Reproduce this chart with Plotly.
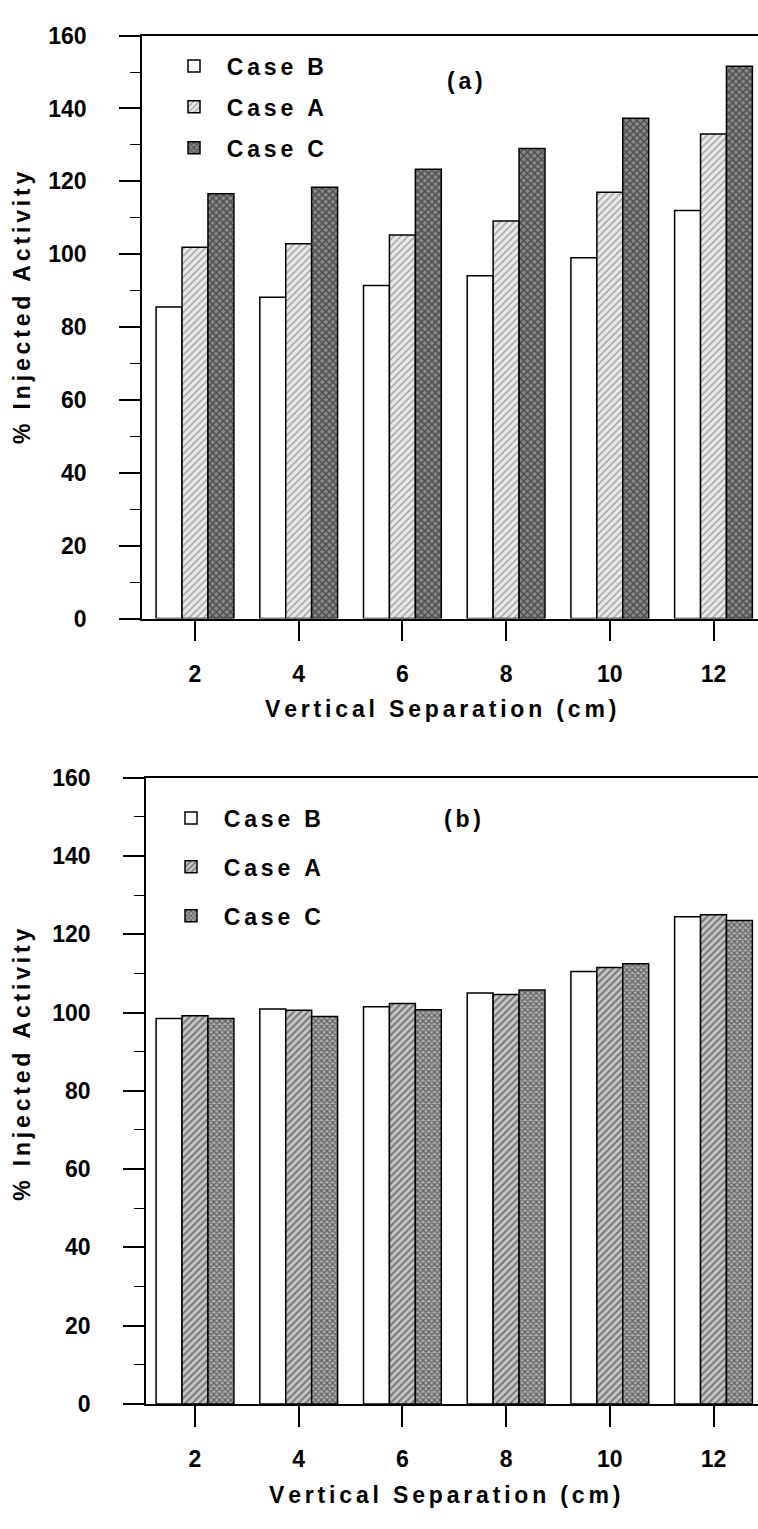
import plotly.graph_objects as go

# ---- data ----
separation = [2, 4, 6, 8, 10, 12]
tick_labels = ["2", "4", "6", "8", "10", "12"]
y_ticks = [0, 20, 40, 60, 80, 100, 120, 140, 160]

a_case_b = [85.5, 88.2, 91.4, 94.1, 99.0, 112.0]
a_case_a = [101.9, 102.9, 105.3, 109.1, 117.0, 133.0]
a_case_c = [116.6, 118.4, 123.3, 129.0, 137.3, 151.6]

b_case_b = [98.5, 100.9, 101.5, 105.0, 110.5, 124.5]
b_case_a = [99.2, 100.6, 102.3, 104.6, 111.5, 125.0]
b_case_c = [98.5, 99.0, 100.7, 105.8, 112.5, 123.5]

series_names = ["Case B", "Case A", "Case C"]

W, H = 758, 1529
FONT = "Liberation Sans"
SP = "\u2006"  # six-per-em space used as letter spacing
NB = "\u00a0"


def spaced(s):
    return SP.join(list(s))


fig = go.Figure()

styles_a = [
    dict(color="white", pattern=None),
    dict(color="#e0e0e0", pattern=dict(shape="/", fgcolor="#5e5e5e", bgcolor="#e9e9e9", size=5, solidity=0.3)),
    dict(color="#777", pattern=dict(shape="x", fgcolor="#111111", bgcolor="#8a8a8a", size=5, solidity=0.5)),
]
styles_b = [
    dict(color="white", pattern=None),
    dict(color="#bbb", pattern=dict(shape="/", fgcolor="#2a2a2a", bgcolor="#c8c8c8", size=5, solidity=0.42)),
    dict(color="#888", pattern=dict(shape="x", fgcolor="#111111", bgcolor="#b0b0b0", size=4, solidity=0.55)),
]

for vals, name, st in zip([a_case_b, a_case_a, a_case_c], series_names, styles_a):
    marker = dict(color=st["color"], line=dict(color="black", width=1.5))
    if st["pattern"]:
        marker["pattern"] = st["pattern"]
    fig.add_trace(go.Bar(x=separation, y=vals, name=NB + NB + spaced(name), marker=marker,
                         xaxis="x", yaxis="y", legend="legend", legendgroup="a" + name))

for vals, name, st in zip([b_case_b, b_case_a, b_case_c], series_names, styles_b):
    marker = dict(color=st["color"], line=dict(color="black", width=1.5))
    if st["pattern"]:
        marker["pattern"] = st["pattern"]
    fig.add_trace(go.Bar(x=separation, y=vals, name=NB + NB + spaced(name), marker=marker,
                         xaxis="x2", yaxis="y2", legend="legend2", legendgroup="b" + name))

tickfont = dict(family=FONT, size=23, color="black", weight="bold")

# category spacing: 2 units per 103.7 px
px_per_unit = 103.7 / 2


def xrange(left_px):
    lo = 2 - (195 - left_px) / px_per_unit
    hi = lo + (W - left_px) / px_per_unit
    return [lo, hi]


common_x = dict(tickmode="array", tickvals=separation, ticktext=tick_labels,
                ticks="outside", ticklen=21, tickwidth=1.5, tickcolor="black",
                showline=True, linecolor="black", linewidth=1.5, mirror=True,
                showgrid=False, zeroline=False, tickfont=tickfont,
                ticklabelstandoff=13)
common_y = dict(tickmode="array", tickvals=y_ticks, range=[0, 160],
                ticks="outside", ticklen=21, tickwidth=1.5, tickcolor="black",
                minor=dict(ticks="outside", ticklen=10, dtick=10, tickwidth=1.2, tickcolor="black", showgrid=False),
                showline=True, linecolor="black", linewidth=1.5,
                showgrid=False, zeroline=False, tickfont=tickfont,
                ticklabelstandoff=28)

legfont = dict(family=FONT, size=23, color="black", weight="bold")

fig.update_layout(
    width=W, height=H,
    margin=dict(l=0, r=0, t=0, b=0),
    paper_bgcolor="white", plot_bgcolor="white",
    barmode="group", bargap=0.25, bargroupgap=0,
    xaxis=dict(domain=[142 / W, 1], range=xrange(142), anchor="y", **common_x),
    yaxis=dict(domain=[1 - 616 / H, 1 - 23 / H], anchor="x", **common_y),
    xaxis2=dict(domain=[146 / W, 1], range=xrange(146), anchor="y2", **common_x),
    yaxis2=dict(domain=[1 - 1415 / H, 1 - 778 / H], anchor="x2", **common_y),
    legend=dict(x=174 / W, y=1 - 32 / H, xanchor="left", yanchor="top",
                font=legfont, tracegroupgap=8, bgcolor="rgba(0,0,0,0)", itemwidth=30),
    legend2=dict(x=171 / W, y=1 - 797 / H, xanchor="left", yanchor="top",
                 font=legfont, tracegroupgap=16, bgcolor="rgba(0,0,0,0)", itemwidth=30),
    showlegend=True,
)

titlefont = dict(family=FONT, size=23, color="black", weight="bold")
fig.add_annotation(text=spaced("Vertical Separation (cm)"), xref="paper", yref="paper",
                   x=440 / W, y=1 - 708 / H, showarrow=False, font=titlefont,
                   xanchor="center", yanchor="middle")
fig.add_annotation(text=spaced("Vertical Separation (cm)"), xref="paper", yref="paper",
                   x=444 / W, y=1 - 1508 / H, showarrow=False, font=titlefont,
                   xanchor="center", yanchor="middle")
fig.add_annotation(text=spaced("% Injected Activity"), xref="paper", yref="paper",
                   x=22 / W, y=1 - 300 / H, showarrow=False, font=titlefont, textangle=-90,
                   xanchor="center", yanchor="middle")
fig.add_annotation(text=spaced("% Injected Activity"), xref="paper", yref="paper",
                   x=22 / W, y=1 - 1070 / H, showarrow=False, font=titlefont, textangle=-90,
                   xanchor="center", yanchor="middle")
fig.add_annotation(text=spaced("(a)"), xref="paper", yref="paper", x=465 / W, y=1 - 54 / H,
                   showarrow=False, font=dict(family=FONT, size=23, color="black", weight="bold"))
fig.add_annotation(text=spaced("(b)"), xref="paper", yref="paper", x=462 / W, y=1 - 820 / H,
                   showarrow=False, font=dict(family=FONT, size=23, color="black", weight="bold"))

fig.write_html("out.html")
